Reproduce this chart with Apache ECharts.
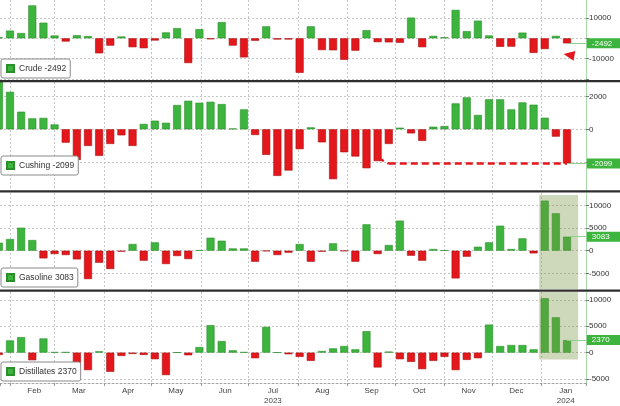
<!DOCTYPE html>
<html><head><meta charset="utf-8">
<script src="https://cdn.jsdelivr.net/npm/echarts@6/dist/echarts.min.js"></script>
<style>html,body{margin:0;padding:0;background:#fff}#c{width:620px;height:406px}</style>
</head><body><div id="c"></div>
<script>
// weekly EIA report dates (first one is partly cut off at the left edge)
const dates = ['2023-01-25',
 '2023-02-01','2023-02-08','2023-02-15','2023-02-22',
 '2023-03-01','2023-03-08','2023-03-15','2023-03-22','2023-03-29',
 '2023-04-05','2023-04-12','2023-04-19','2023-04-26',
 '2023-05-03','2023-05-10','2023-05-17','2023-05-24','2023-05-31',
 '2023-06-07','2023-06-14','2023-06-21','2023-06-28',
 '2023-07-05','2023-07-12','2023-07-19','2023-07-26',
 '2023-08-02','2023-08-09','2023-08-16','2023-08-23','2023-08-30',
 '2023-09-06','2023-09-13','2023-09-20','2023-09-27',
 '2023-10-04','2023-10-11','2023-10-18','2023-10-25',
 '2023-11-01','2023-11-08','2023-11-15','2023-11-22','2023-11-29',
 '2023-12-06','2023-12-13','2023-12-20','2023-12-27',
 '2024-01-03','2024-01-10','2024-01-17'];

const crude = [500,
 3800, 2600, 16200, 7700, 1400, -1600, 1500, 1100, -7400, -3600, 900, -4400, -4900, -1100,
 2900, 5000, -12200, 4500, -500, 8000, -3600, -9400, -1200, 5900, -600, -600, -17000,
 5900, -5800, -5900, -10600, -6100, 4000, -1900, -2000, -2200, 10200, -4400, 1200, 500,
 14000, 3500, 8700, 1400, -4200, -4100, 2800, -7200, -5300, 1200, -2492];

const cushing = [3000,
 2300, 1080, 670, 700, 300, -820, -1880, -1020, -1630, -900, -370, -1020, 330, 530, 400,
 1490, 1750, 1630, 1690, 1550, 50, 1220, -350, -1570, -2860, -2530, -1220,
 120, -800, -3060, -1410, -1670, -2390, -1950, -900, 100, -250, -710, 160, 200,
 1590, 1960, 880, 1840, 1840, 1220, 1650, 1510, 710, -450, -2099];

const gasoline = [1760,
 2570, 5070, 2350, -1690, -740, -960, -1910, -6250, -2650, -4040, -200, 1470, -2200, 1840,
 -2940, -1180, -1840, 100, 2870, 2200, 500, 500, -2430, -100, -960, -440, 1470,
 -2430, -200, 1620, -50, -2430, 5810, -740, 1250, 6620, -1100, -2200, 370, 100,
 -6100, -1320, 880, 1840, 5510, 370, 2720, -590, 11030, 8240, 3083];

const distillates = [-440,
 2310, 2940, -1440, 2690, 100, 100, -2500, -3310, 250, -3630, -630, -250, -440, -1250,
 -4250, 50, -500, 1060, 5190, 2190, 440, 100, -1060, 4880, 50, -310, -810,
 -1560, 310, 810, 1250, 630, 4060, -2810, 200, -1250, -1750, -3130, -1560, -810,
 -3310, -1380, -1060, 5310, 1250, 1440, 1440, 630, 10310, 6690, 2370];

const seriesNames = ['Crude', 'Cushing', 'Gasoline', 'Distillates'];
const seriesValues = [crude, cushing, gasoline, distillates];
const yTickLabels = [[10000, -10000], [2000, 0], [10000, 5000, 0, -5000], [10000, 5000, 0, -5000]];
const monthNames = ['Jan','Feb','Mar','Apr','May','Jun','Jul','Aug','Sep','Oct','Nov','Dec'];

// layout
const FONT = 'Liberation Sans, Arial, sans-serif';
const GREEN = '#3db43d', GREEN_B = '#2b8f2b', RED = '#e3171c', RED_B = '#a81010';
// ECharts widens a time axis carrying bars by half a bar on each side; these bounds allow for that
const xMin = '2023-01-28 05:20', xMax = '2024-01-26 10:10';
const axisEnd = '2024-01-28 20:00';
// label axis: same span shifted back half a month so month names sit mid-month
const lblMin = '2023-01-10 12:00', lblMax = '2024-01-13 17:30';
const hlStart = '2023-12-30 12:00', hlEnd = '2024-01-24 00:00';
const panels = [
  {top: 0,   height: 80,  min: -20542, max: 18867, step: 10000, legendTop: 59},
  {top: 82,  height: 108, min: -3724,  max: 2902,  step: 2000,  legendTop: 156},
  {top: 193, height: 96,  min: -8436,  max: 12709, step: 5000,  legendTop: 268},
  {top: 292, height: 92,  min: -5749,  max: 11479, step: 5000,  legendTop: 362}
];

const grids = [], xAxes = [], yAxes = [], series = [], legends = [];
panels.forEach((p, i) => {
  const vals = seriesValues[i];
  const last = vals[vals.length - 1];
  const lastDate = dates[dates.length - 1];
  const isBottom = i === 3;
  grids.push({left: 0, right: 34, top: p.top, height: p.height});
  xAxes.push({
    type: 'time', gridIndex: i, position: 'bottom', min: xMin, max: xMax, splitNumber: 12,
    axisLine: {show: isBottom, onZero: false, lineStyle: {color: '#a8a8a8', type: [2, 2]}},
    axisTick: {show: isBottom, length: 3, lineStyle: {color: '#999'}},
    axisLabel: {show: false},
    splitLine: {show: true, showMinLine: false, showMaxLine: false, lineStyle: {color: '#c6c6c6', type: [2, 2]}}
  });
  yAxes.push({
    type: 'value', gridIndex: i, position: 'right', min: p.min, max: p.max,
    minInterval: p.step, maxInterval: p.step, splitNumber: 4,
    axisLine: {show: true, lineStyle: {color: '#a8d9a8', width: 1}},
    axisTick: {show: true, length: 3, lineStyle: {color: '#777'}},
    axisLabel: {
      show: true, fontSize: 8, color: '#333', fontFamily: FONT, margin: 3,
      showMinLabel: false, showMaxLabel: false,
      formatter: v => (yTickLabels[i].indexOf(v) >= 0 ? String(v) : '')
    },
    splitLine: {show: true, showMinLine: false, showMaxLine: false, lineStyle: {color: '#c6c6c6', type: [2, 2]}}
  });

  const markLineData = [[
    {coord: [lastDate, last], lineStyle: {color: '#8fcf8f', width: 1, type: 'solid'},
     label: {show: true, position: 'end', formatter: String(last), backgroundColor: GREEN,
             color: '#fff', fontSize: 8, fontFamily: FONT, padding: [1, 14, 1, 5], distance: 1}},
    {coord: [axisEnd, last]}
  ]];
  if (i === 1) {
    const dashStyle = {color: RED, width: 2.5, type: [7, 4]};
    markLineData.push([
      {coord: [dates[34], -1750], lineStyle: dashStyle, label: {show: false}},
      {coord: [dates[35], last]}
    ]);
    markLineData.push([
      {coord: [dates[35], last], lineStyle: dashStyle, label: {show: false}},
      {coord: [lastDate, last]}
    ]);
  }
  const s = {
    name: seriesNames[i], type: 'bar', xAxisIndex: i, yAxisIndex: i, barWidth: 8, clip: true,
    itemStyle: {color: GREEN, borderColor: GREEN_B, borderWidth: 0.6},
    data: dates.map((d, k) => ({
      value: [d, vals[k]],
      itemStyle: vals[k] < 0 ? {color: RED, borderColor: RED_B} : undefined
    })),
    markLine: {silent: true, symbol: ['none', 'none'], animation: false, data: markLineData}
  };
  if (i === 0) {
    s.markPoint = {silent: true, animation: false, data: [
      {coord: [lastDate, -8200], symbol: 'triangle', symbolSize: [10, 11], symbolRotate: 80,
       symbolOffset: [2, 0], itemStyle: {color: RED}, label: {show: false}}
    ]};
  }
  if (i === 2 || i === 3) {
    s.markArea = {silent: true, z: 3, animation: false,
      itemStyle: {color: 'rgba(118,148,66,0.36)'},
      data: [[{xAxis: hlStart, yAxis: i === 2 ? 12270 : p.max}, {xAxis: hlEnd, yAxis: i === 2 ? p.min : -1300}]]};
  }
  series.push(s);
  legends.push({
    data: [seriesNames[i]], left: 1, top: p.legendTop, selectedMode: false,
    backgroundColor: '#fff', borderColor: '#8a8a8a', borderWidth: 1, borderRadius: 2,
    padding: [5, 4, 5, 5], itemWidth: 7, itemHeight: 7, icon: 'rect',
    textStyle: {fontSize: 8.5, color: '#333', fontFamily: FONT},
    formatter: n => n + ' ' + last
  });
});

// month-name axis (labels only) under the bottom panel
xAxes.push({
  type: 'time', gridIndex: 3, position: 'bottom', min: lblMin, max: lblMax, splitNumber: 12,
  axisLine: {show: false}, axisTick: {show: false}, splitLine: {show: false},
  axisLabel: {
    show: true, showMinLabel: false, showMaxLabel: false, margin: 3,
    fontSize: 8, color: '#444', fontFamily: FONT, lineHeight: 10,
    formatter: function (value) {
      const d = new Date(value); const m = d.getMonth();
      return (m === 6 || m === 0) ? monthNames[m] + '\n' + d.getFullYear() : monthNames[m];
    }
  }
});

const sepYs = [80, 190.3, 289.5];
const chart = echarts.init(document.getElementById('c'), null, {renderer: 'canvas'});
chart.setOption({
  animation: false,
  backgroundColor: '#fff',
  textStyle: {fontFamily: FONT},
  grid: grids, xAxis: xAxes, yAxis: yAxes, series: series, legend: legends,
  graphic: sepYs.map(y => ({type: 'rect', z: 100, silent: true,
    shape: {x: 0, y: y, width: 620, height: 2.3}, style: {fill: '#2e2e2e'}}))
});
</script></body></html>
